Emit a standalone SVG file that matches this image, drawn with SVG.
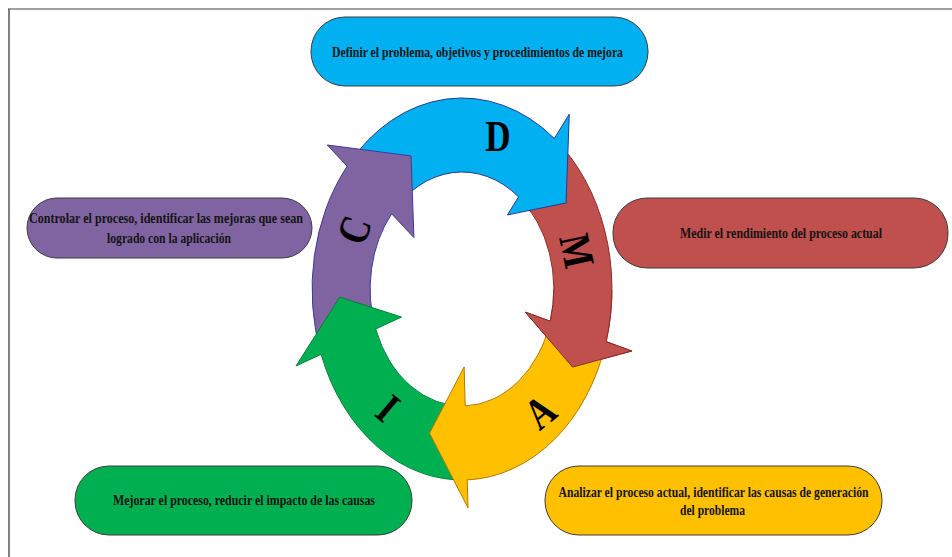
<svg xmlns="http://www.w3.org/2000/svg" xmlns:xlink="http://www.w3.org/1999/xlink" width="952" height="557" viewBox="0 0 952 557">
  <style>
    .box { stroke: #3c3c3c; stroke-width: 1; }
    .label { font-family: "Liberation Serif", "Times New Roman", serif; font-weight: bold; font-size: 15px; fill: #141414; text-anchor: middle; }
    .letter { font-family: "Liberation Serif", "Times New Roman", serif; font-weight: bold; font-size: 44px; fill: #000; text-anchor: middle; dominant-baseline: central; }
    .arc { stroke-width: 1; stroke-linejoin: miter; }
  </style>
  <defs>
    <!-- red arc arrow, reused so its head can be painted over the yellow tail -->
    <path id="arrowM" class="arc" fill="#C0504D" stroke="#8C2B28"
          d="M554.32,138.49 A149.94,191 0 0 1 606.13,341.64 L631.79,351.01 L572.54,367.05 L525.39,312.15 L550.29,321.25 A91.85,117 0 0 0 518.55,196.80 Z"/>
    <clipPath id="clipHeadM">
      <rect x="490" y="290" width="170" height="130"/>
    </clipPath>
  </defs>

  <rect width="952" height="557" fill="#fff"/>
  <!-- frame -->
  <line x1="8" y1="9" x2="952" y2="9" stroke="#a0a0a0" stroke-width="2"/>
  <line x1="9" y1="9" x2="9" y2="557" stroke="#555" stroke-width="1.5"/>

  <!-- cycle arrows -->
  <g id="connectors">
    <g id="arc-M"><use xlink:href="#arrowM"/></g>
    <g id="arc-D">
      <path class="arc" fill="#00B0F0" stroke="#2B3990"
            d="M347.15,166.23 A149.94,191 0 0 1 554.32,138.49 L569.30,114.06 L566.02,202.95 L507.43,214.93 L518.55,196.80 A91.85,117 0 0 0 391.65,213.79 Z"/>
    </g>
    <g id="arc-C">
      <path class="arc" fill="#8064A2" stroke="#3B3A9C"
            d="M321.11,354.32 A149.94,191 0 0 1 347.15,166.23 L327.31,145.01 L411.07,155.98 L413.90,237.58 L391.65,213.79 A91.85,117 0 0 0 375.69,329.01 Z"/>
    </g>
    <g id="arc-I">
      <path class="arc" fill="#00B050" stroke="#00803A"
            d="M467.23,479.89 A149.94,191 0 0 1 321.11,354.32 L296.02,365.95 L339.71,297.16 L401.51,317.04 L375.69,329.01 A91.85,117 0 0 0 465.21,405.93 Z"/>
    </g>
    <g id="arc-A">
      <path class="arc" fill="#FFC000" stroke="#B07A00"
            d="M606.13,341.64 A149.94,191 0 0 1 467.23,479.89 L468.00,507.87 L429.55,433.20 L464.14,366.95 L465.21,405.93 A91.85,117 0 0 0 550.29,321.25 Z"/>
    </g>
    <g id="arc-M-head"><use xlink:href="#arrowM" clip-path="url(#clipHeadM)"/></g>

    <!-- phase letters -->
    <text class="letter" transform="translate(498,136) scale(0.8,1)">D</text>
    <text class="letter" transform="translate(577,251) rotate(78) scale(0.8,1)">M</text>
    <text class="letter" transform="translate(540,412) rotate(-39) scale(0.8,1)">A</text>
    <text class="letter" transform="translate(388,408) rotate(40) scale(0.8,1)">I</text>
    <text class="letter" transform="translate(354,230) rotate(-70) scale(0.8,1)">C</text>
  </g>

  <!-- stage boxes -->
  <g id="node-definir">
    <rect class="box" x="311" y="17" width="337" height="69" rx="34" fill="#00B0F0"/>
    <text class="label" x="477.5" y="57" textLength="291" lengthAdjust="spacingAndGlyphs">Definir el problema, objetivos y procedimientos de mejora</text>
  </g>
  <g id="node-medir">
    <rect class="box" x="613" y="198" width="335" height="70" rx="34" fill="#C0504D"/>
    <text class="label" x="781" y="238" textLength="202" lengthAdjust="spacingAndGlyphs">Medir el rendimiento del proceso actual</text>
  </g>
  <g id="node-controlar">
    <rect class="box" x="27" y="198" width="285" height="60" rx="30" fill="#8064A2"/>
    <text class="label" x="166" y="223" textLength="274" lengthAdjust="spacingAndGlyphs">Controlar el proceso, identificar las mejoras que sean</text>
    <text class="label" x="169" y="243" textLength="124" lengthAdjust="spacingAndGlyphs">logrado con la aplicación</text>
  </g>
  <g id="node-mejorar">
    <rect class="box" x="75" y="466" width="337" height="69" rx="34" fill="#00B050"/>
    <text class="label" x="244" y="505" textLength="262" lengthAdjust="spacingAndGlyphs">Mejorar el proceso, reducir el impacto de las causas</text>
  </g>
  <g id="node-analizar">
    <rect class="box" x="545" y="466" width="337" height="69" rx="34" fill="#FFC000"/>
    <text class="label" x="713.5" y="497" textLength="310" lengthAdjust="spacingAndGlyphs">Analizar el proceso actual, identificar las causas de generación</text>
    <text class="label" x="712.5" y="515" textLength="65" lengthAdjust="spacingAndGlyphs">del problema</text>
  </g>
</svg>
